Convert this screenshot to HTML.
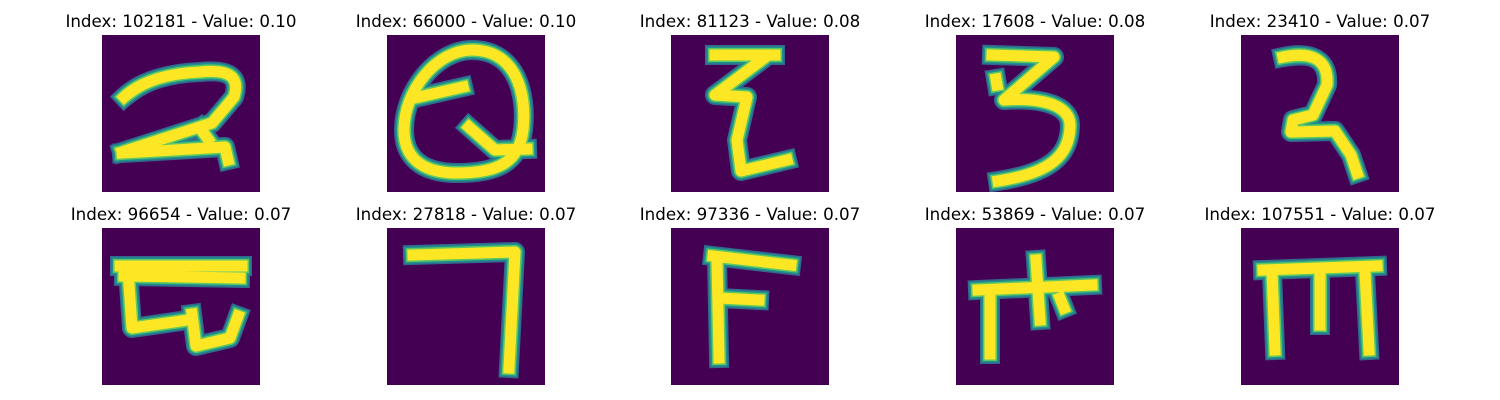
<!DOCTYPE html>
<html><head><meta charset="utf-8"><style>
html,body{margin:0;padding:0;background:#fff;}
svg{display:block;}
text{font-family:"DejaVu Sans","Liberation Sans",sans-serif;font-size:16.7px;fill:#000;}
</style></head><body>
<svg id="fig" width="1500" height="400" viewBox="0 0 1500 400" xmlns="http://www.w3.org/2000/svg">
<defs><clipPath id="clip"><rect width="158" height="157"/></clipPath></defs>
</svg>
<script>
const indices = [102181, 66000, 81123, 17608, 23410, 96654, 27818, 97336, 53869, 107551];
const values = [0.10, 0.10, 0.08, 0.08, 0.07, 0.07, 0.07, 0.07, 0.07, 0.07];
const glyphs = [
 ["M22 62 C40 45 70 38 98 37 C128 34 138 42 132 62 L110 88 L20 117", "M20 118 L123 112 L126 125", "M98 93 L106 104"],
 ["M17 95 C17 55 50 15 85 15 C130 15 140 60 136 95 C132 128 110 138 70 138 C32 138 17 120 17 95 Z", "M82 92 L108 115 L140 114", "M32 62 L76 52"],
 ["M44 20 L104 20", "M92 24 L44 60 L76 62 L66 105 L70 136 L116 125"],
 ["M36 20 L98 22 L48 65 C90 62 114 72 114 90 C114 120 95 138 42 146", "M40 44 L41 50"],
 ["M42 22 C70 16 88 24 86 50 L72 80 L52 85 L50 97 L94 96 L110 120 L116 138"],
 ["M18 38 L140 38", "M22 48 L138 50", "M26 42 L30 100 L86 92", "M90 86 L94 118 L128 110 L136 88"],
 ["M26 27 L128 24 L122 140"],
 ["M42 28 L120 37", "M46 32 L48 130", "M48 70 L88 72"],
 ["M22 62 L136 57", "M80 32 L84 92", "M34 66 L34 126", "M104 70 L108 80"],
 ["M22 42 L136 38", "M31 44 L34 122", "M79 44 L79 97", "M124 44 L128 122"]
];
const svg = document.getElementById('fig');
const NS = "http://www.w3.org/2000/svg";
const colX = [102, 387, 671, 956, 1241];
const rowY = [35, 228];
const W = 158, H = 157;
const layers = [["#31688e",20],["#21918c",17],["#5ec962",14],["#fde725",11]];
for (let i = 0; i < indices.length; i++) {
  const x = colX[i % 5], y = rowY[Math.floor(i / 5)];
  const g = document.createElementNS(NS, 'g');
  
  
  g.setAttribute('transform', `translate(${x},${y})`);
  g.setAttribute('clip-path', 'url(#clip)');
  const r = document.createElementNS(NS, 'rect');
  
  
  r.setAttribute('width', W); r.setAttribute('height', H); r.setAttribute('fill', '#440154');
  g.appendChild(r);
  for (const [c, w] of layers) {
    for (const d of glyphs[i]) {
      const p = document.createElementNS(NS, 'path');
      
      
      p.setAttribute('d', d); p.setAttribute('fill', 'none');
      p.setAttribute('stroke', c); p.setAttribute('stroke-width', w);
      p.setAttribute('stroke-linecap', 'square'); p.setAttribute('stroke-linejoin', 'round');
      g.appendChild(p);
    }
  }
  svg.appendChild(g);
  const t = document.createElementNS(NS, 'text');
  
  
  t.setAttribute('x', x + W / 2); t.setAttribute('y', y - 8);
  t.setAttribute('text-anchor', 'middle');
  t.textContent = `Index: ${indices[i]} - Value: ${values[i].toFixed(2)}`;
  svg.appendChild(t);
}
</script>
</body></html>
